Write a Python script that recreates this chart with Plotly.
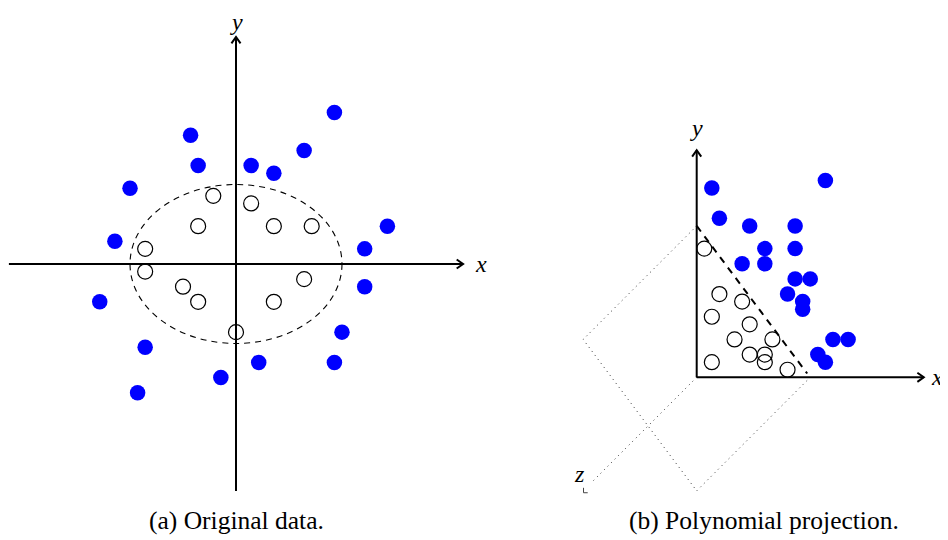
import plotly.graph_objects as go

# ---------------- data (in drawing units) ----------------
# (a) Original data
blue_a_x = [13, -6, 9, -5, 2, 5, -14, 20, -16, 17, 17, -18, 14, -12, 3, 13, -2, -13]
blue_a_y = [20, 17, 15, 13, 13, 12, 10, 5, 3, 2, -3, -5, -9, -11, -13, -13, -15, -17]
open_a_x = [-3, 2, -5, 5, 10, -12, -12, -7, -5, 9, 5, 0]
open_a_y = [9, 8, 5, 5, 5, 2, -1, -3, -5, -2, -5, -9]
ellipse_rx, ellipse_ry = 14, 10.5
axis_a_min, axis_a_max = -30, 30

# (b) Polynomial projection
blue_b_x = [2, 17, 3, 7, 13, 9, 13, 6, 9, 13, 15, 12, 14, 14, 18, 20, 16, 17]
blue_b_y = [25, 26, 21, 20, 20, 17, 17, 15, 15, 13, 13, 11, 10, 9, 5, 5, 3, 2]
open_b_x = [1, 3, 6, 2, 7, 5, 10, 7, 9, 9, 2, 12]
open_b_y = [17, 11, 10, 8, 7, 5, 5, 3, 3, 2, 2, 1]
axis_b_max = 30
sep_x = [0, 14.6]            # dashed separating line
sep_y = [20, 0.5]
plane_x = [0, -15, 0, 15]    # dotted parallelogram
plane_y = [20, 5, -15, 0]
z_axis_x = [0, -14]
z_axis_y = [0, -14]

captions = ["(a) Original data.", "(b) Polynomial projection."]

# ---------------- geometry ----------------
PAGE_OFF = 8                 # default body margin of the html page
W, H = 948 - PAGE_OFF, 540 - PAGE_OFF
U = 7.57                     # pixels per drawing unit
orig_a = (236 - PAGE_OFF, 264 - PAGE_OFF)
orig_b = (696.7 - PAGE_OFF, 377.3 - PAGE_OFF)
cap_y = 520 - PAGE_OFF
cap_xa, cap_xb = 236 - PAGE_OFF, 764 - PAGE_OFF
split = 0.55

BLUE = "#0000ff"
SERIF = "Liberation Serif, Times New Roman, serif"

fig = go.Figure()


def arrow_head(tip_x, tip_y, dx, dy, xa, ya):
    back, side = 0.85, 0.6
    if dx:
        xs = [tip_x - back * dx, tip_x, tip_x - back * dx]
        ys = [tip_y + side, tip_y, tip_y - side]
    else:
        xs = [tip_x - side, tip_x, tip_x + side]
        ys = [tip_y - back * dy, tip_y, tip_y - back * dy]
    fig.add_trace(go.Scatter(x=xs, y=ys, mode="lines", xaxis=xa, yaxis=ya,
                             line=dict(color="black", width=2)))


# ---- panel (a) ----
fig.add_trace(go.Scatter(x=[axis_a_min, axis_a_max], y=[0, 0], mode="lines",
                         line=dict(color="black", width=2), xaxis="x", yaxis="y"))
fig.add_trace(go.Scatter(x=[0, 0], y=[axis_a_min, axis_a_max], mode="lines",
                         line=dict(color="black", width=2), xaxis="x", yaxis="y"))
arrow_head(axis_a_max, 0, 1, 0, "x", "y")
arrow_head(0, axis_a_max, 0, 1, "x", "y")
fig.add_shape(type="circle", xref="x", yref="y",
              x0=-ellipse_rx, x1=ellipse_rx, y0=-ellipse_ry, y1=ellipse_ry,
              line=dict(color="black", width=1.1, dash="6px,5px"))
fig.add_trace(go.Scatter(x=blue_a_x, y=blue_a_y, mode="markers", xaxis="x", yaxis="y",
                         marker=dict(size=15.5, color=BLUE, line=dict(width=0))))
fig.add_trace(go.Scatter(x=open_a_x, y=open_a_y, mode="markers", xaxis="x", yaxis="y",
                         marker=dict(size=15, color="rgba(255,255,255,0)",
                                     line=dict(width=1.2, color="black"))))

# ---- panel (b) ----
fig.add_trace(go.Scatter(x=plane_x, y=plane_y, mode="lines", xaxis="x2", yaxis="y2",
                         line=dict(color="#333333", width=1, dash="1px,4px")))
fig.add_trace(go.Scatter(x=z_axis_x, y=z_axis_y, mode="lines", xaxis="x2", yaxis="y2",
                         line=dict(color="#333333", width=1, dash="1px,4px")))
fig.add_trace(go.Scatter(x=[z_axis_x[1] - 0.95, z_axis_x[1] - 0.95, z_axis_x[1] - 0.4],
                         y=[z_axis_y[1] - 0.6, z_axis_y[1] - 1.25, z_axis_y[1] - 1.25],
                         mode="lines", xaxis="x2", yaxis="y2",
                         line=dict(color="#444444", width=1)))
fig.add_trace(go.Scatter(x=[0, axis_b_max], y=[0, 0], mode="lines",
                         line=dict(color="black", width=2), xaxis="x2", yaxis="y2"))
fig.add_trace(go.Scatter(x=[0, 0], y=[0, axis_b_max], mode="lines",
                         line=dict(color="black", width=2), xaxis="x2", yaxis="y2"))
arrow_head(axis_b_max, 0, 1, 0, "x2", "y2")
arrow_head(0, axis_b_max, 0, 1, "x2", "y2")
fig.add_trace(go.Scatter(x=sep_x, y=sep_y, mode="lines", xaxis="x2", yaxis="y2",
                         line=dict(color="black", width=2, dash="7px,6px")))
fig.add_trace(go.Scatter(x=blue_b_x, y=blue_b_y, mode="markers", xaxis="x2", yaxis="y2",
                         marker=dict(size=15.5, color=BLUE, line=dict(width=0))))
fig.add_trace(go.Scatter(x=open_b_x, y=open_b_y, mode="markers", xaxis="x2", yaxis="y2",
                         marker=dict(size=15, color="rgba(255,255,255,0)",
                                     line=dict(width=1.2, color="black"))))

# ---- labels ----
lab_font = dict(family=SERIF, size=24, color="black")
labels = [
    ("x", "y", axis_a_max + 2.4, 0, "<i>x</i>", "middle"),
    ("x2", "y2", axis_b_max + 1.7, 0, "<i>x</i>", "middle"),
    ("x2", "y2", 0, axis_b_max + 2.9, "<i>y</i>", "middle"),
    ("x2", "y2", z_axis_x[1] - 1.5, z_axis_y[1] + 1.2, "<i>z</i>", "middle"),
]
for xr, yr, lx, ly, t, va in labels:
    fig.add_annotation(xref=xr, yref=yr, x=lx, y=ly, text=t, showarrow=False,
                       font=lab_font, xanchor="center", yanchor=va)
# top label of panel (a) sits at the very top of the page
fig.add_annotation(xref="x", yref="paper", x=0, y=1, text="<i>y</i>", showarrow=False,
                   font=lab_font, xanchor="center", yanchor="top", borderpad=0)

cap_font = dict(family=SERIF, size=25.5, color="black")
fig.add_annotation(xref="paper", yref="paper", x=cap_xa / W, y=1 - cap_y / H,
                   text=captions[0], showarrow=False, font=cap_font,
                   xanchor="center", yanchor="middle")
fig.add_annotation(xref="paper", yref="paper", x=cap_xb / W, y=1 - cap_y / H,
                   text=captions[1], showarrow=False, font=cap_font,
                   xanchor="center", yanchor="middle")

ax_common = dict(visible=False, showgrid=False, zeroline=False, fixedrange=True)
xs_a = split * W
fig.update_layout(
    width=W, height=H, margin=dict(l=0, r=0, t=0, b=0),
    paper_bgcolor="white", plot_bgcolor="white", showlegend=False,
    xaxis=dict(domain=[0, split], range=[-orig_a[0] / U, (xs_a - orig_a[0]) / U], **ax_common),
    yaxis=dict(domain=[0, 1], range=[-(H - orig_a[1]) / U, orig_a[1] / U], **ax_common),
    xaxis2=dict(domain=[split, 1], range=[(xs_a - orig_b[0]) / U, (W - orig_b[0]) / U], **ax_common),
    yaxis2=dict(domain=[0, 1], range=[-(H - orig_b[1]) / U, orig_b[1] / U], anchor="x2", **ax_common),
)
for tr in fig.data:
    tr.update(cliponaxis=False, hoverinfo="skip")

fig.write_html("out.html")
